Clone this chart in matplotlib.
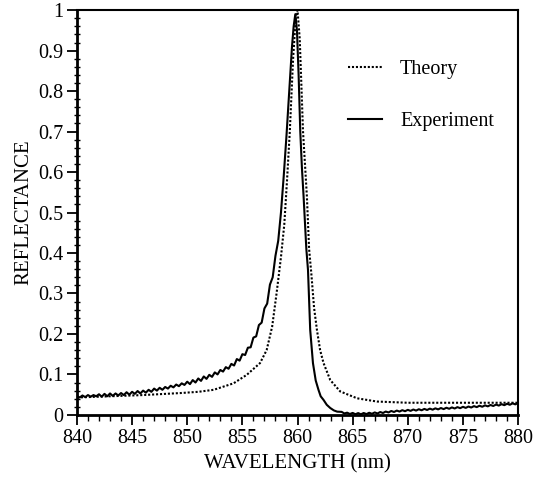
import numpy as np
import matplotlib.pyplot as plt

plt.rcParams['font.family'] = ['Liberation Serif', 'DejaVu Serif']

# theory (smooth curve)
theory_wl = [840.0, 843.0, 846.0, 849.4, 851.0, 852.4, 854.2, 855.4, 856.6, 857.2,
             857.7, 858.1, 858.5, 858.8, 859.05, 859.3, 859.6, 859.85, 860.0, 860.2,
             860.5, 860.85, 861.05, 861.25, 861.5, 861.76, 862.05, 862.36, 862.97,
             863.87, 865.4, 867.2, 870.0, 875.0, 880.0]
theory_r = [0.043, 0.046, 0.049, 0.054, 0.057, 0.062, 0.078, 0.099, 0.128, 0.160,
            0.218, 0.300, 0.390, 0.470, 0.580, 0.700, 0.880, 0.985, 1.000, 0.930,
            0.700, 0.540, 0.410, 0.350, 0.265, 0.210, 0.160, 0.128, 0.086,
            0.058, 0.041, 0.033, 0.030, 0.030, 0.030]

# experiment, left wing 840 - 858 nm in 0.25 nm steps (ripple included)
exp_left_start, exp_left_step = 840.0, 0.25
exp_left_r = [0.047, 0.043, 0.048, 0.044, 0.049, 0.045, 0.049, 0.046,
              0.051, 0.045, 0.052, 0.046, 0.053, 0.047, 0.053, 0.048,
              0.054, 0.049, 0.056, 0.050, 0.057, 0.052, 0.059, 0.053,
              0.060, 0.055, 0.062, 0.057, 0.065, 0.060, 0.067, 0.062,
              0.069, 0.065, 0.072, 0.068, 0.075, 0.071, 0.078, 0.074,
              0.082, 0.076, 0.086, 0.080, 0.090, 0.084, 0.095, 0.089,
              0.099, 0.094, 0.105, 0.100, 0.111, 0.107, 0.118, 0.114,
              0.126, 0.122, 0.138, 0.134, 0.150, 0.148, 0.166, 0.167,
              0.191, 0.194, 0.222, 0.228, 0.263, 0.275, 0.322, 0.340,
              0.393]

# experiment, resonance
exp_peak_wl = [858.25, 858.5, 858.75, 859.0, 859.25, 859.5, 859.65, 859.8, 859.95,
               860.1, 860.25, 860.4, 860.55, 860.8, 860.95, 861.15, 861.4, 861.65,
               861.9, 862.1, 862.36, 862.65, 862.97, 863.3, 863.6]
exp_peak_r = [0.43, 0.50, 0.59, 0.69, 0.80, 0.91, 0.96, 0.99, 0.95,
              0.84, 0.70, 0.61, 0.54, 0.41, 0.358, 0.21, 0.128, 0.085,
              0.062, 0.046, 0.037, 0.025, 0.017, 0.011, 0.008]

# experiment, right wing 864 - 880 nm in 0.25 nm steps
exp_right_start, exp_right_step = 864.0, 0.25
exp_right_r = [0.0075, 0.0035, 0.0055, 0.0022, 0.0049, 0.0016, 0.0045, 0.0015,
               0.0047, 0.0020, 0.0053, 0.0027, 0.0061, 0.0035, 0.0071, 0.0047,
               0.0083, 0.0060, 0.0097, 0.0072, 0.0107, 0.0082, 0.0117, 0.0091,
               0.0125, 0.0099, 0.0133, 0.0106, 0.0140, 0.0114, 0.0148, 0.0121,
               0.0155, 0.0129, 0.0162, 0.0136, 0.0170, 0.0143, 0.0177, 0.0151,
               0.0185, 0.0158, 0.0192, 0.0166, 0.0200, 0.0173, 0.0207, 0.0182,
               0.0217, 0.0192, 0.0226, 0.0201, 0.0236, 0.0211, 0.0245, 0.0220,
               0.0255, 0.0230, 0.0265, 0.0240, 0.0275, 0.0250, 0.0285, 0.0260,
               0.0295]

exp_left_wl = exp_left_start + exp_left_step * np.arange(len(exp_left_r))
exp_right_wl = exp_right_start + exp_right_step * np.arange(len(exp_right_r))
exp_wl = np.concatenate([exp_left_wl, exp_peak_wl, exp_right_wl])
exp_r = np.concatenate([exp_left_r, exp_peak_r, exp_right_r])

fig = plt.figure(figsize=(5.38, 4.83), dpi=100)
ax = fig.add_axes([0.143, 0.141, 0.820, 0.838])

ax.plot(theory_wl, theory_r, color='black', lw=1.5, ls=(0, (1, 0.9)), label='Theory')
ax.plot(exp_wl, exp_r, color='black', lw=1.5, label='Experiment')

ax.set_xlim(840, 880)
ax.set_ylim(0, 1)
ax.set_xticks(np.arange(840, 881, 5))
ax.set_xticks(np.arange(840, 881, 1), minor=True)
ax.set_yticks(np.arange(0, 1.01, 0.1))
ax.set_yticks(np.arange(0, 1.001, 0.02), minor=True)
ax.set_yticklabels(['0'] + ['%.1f' % v for v in np.arange(0.1, 0.95, 0.1)] + ['1'])

ax.tick_params(axis='both', which='major', direction='out', length=7, width=1.3,
               labelsize=14.5, pad=3)
ax.tick_params(axis='x', which='minor', direction='out', length=4, width=1)
ax.tick_params(axis='y', which='minor', direction='inout', length=5, width=1)
for side in ['left', 'bottom']:
    ax.spines[side].set_linewidth(2)
for side in ['top', 'right']:
    ax.spines[side].set_linewidth(1.5)

ax.set_xlabel('WAVELENGTH (nm)', fontsize=15, labelpad=5)
ax.set_ylabel('REFLECTANCE', fontsize=15, labelpad=3)

ax.legend(loc='upper left', bbox_to_anchor=(0.614, 0.878), frameon=False,
          fontsize=14.5, handlelength=1.7, handletextpad=0.9, labelspacing=1.65,
          borderpad=0, borderaxespad=0)

fig.savefig('out.png', dpi=100)
